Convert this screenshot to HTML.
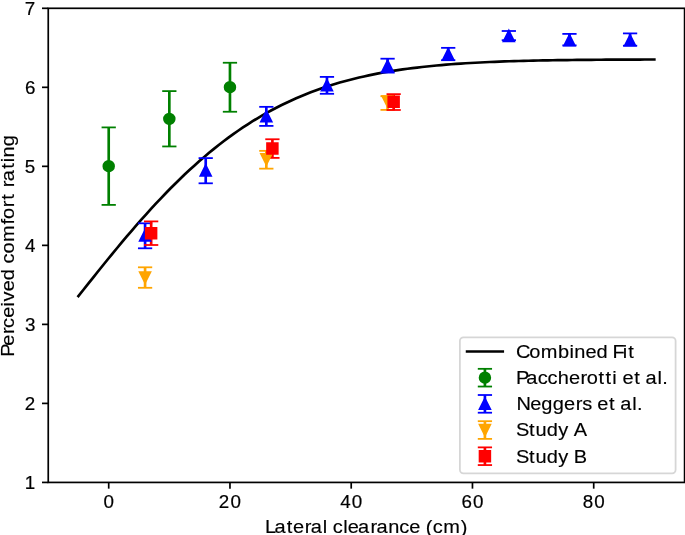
<!DOCTYPE html>
<html><head><meta charset="utf-8"><title>Perceived comfort rating vs lateral clearance</title>
<style>html,body{margin:0;padding:0;background:#fff;overflow:hidden;}svg{display:block;will-change:transform;}text{font-family:"Liberation Sans",sans-serif;fill:#000;}</style></head><body>
<svg width="685" height="535" viewBox="0 0 685 535">
<rect x="0" y="0" width="685" height="535" fill="#fff"/>
<path d="M78.4 296.08 L83.24 289.97 L88.08 283.87 L92.92 277.8 L97.76 271.75 L102.6 265.74 L107.44 259.77 L112.28 253.86 L117.12 247.99 L121.96 242.19 L126.8 236.46 L131.64 230.79 L136.48 225.2 L141.32 219.69 L146.15 214.27 L150.99 208.93 L155.83 203.69 L160.67 198.54 L165.51 193.49 L170.35 188.54 L175.19 183.7 L180.03 178.96 L184.87 174.33 L189.71 169.8 L194.55 165.39 L199.39 161.09 L204.23 156.9 L209.07 152.83 L213.91 148.87 L218.75 145.02 L223.59 141.28 L228.43 137.66 L233.27 134.15 L238.11 130.76 L242.95 127.47 L247.79 124.29 L252.63 121.23 L257.47 118.27 L262.31 115.41 L267.15 112.66 L271.99 110.02 L276.83 107.47 L281.67 105.03 L286.51 102.68 L291.35 100.42 L296.19 98.26 L301.03 96.19 L305.87 94.2 L310.71 92.31 L315.55 90.49 L320.39 88.76 L325.23 87.11 L330.07 85.53 L334.91 84.02 L339.75 82.59 L344.59 81.23 L349.43 79.93 L354.27 78.7 L359.11 77.53 L363.95 76.43 L368.79 75.37 L373.63 74.38 L378.47 73.43 L383.31 72.54 L388.15 71.7 L392.99 70.9 L397.83 70.15 L402.66 69.44 L407.5 68.77 L412.34 68.14 L417.18 67.55 L422.02 66.99 L426.86 66.47 L431.7 65.98 L436.54 65.51 L441.38 65.08 L446.22 64.67 L451.06 64.29 L455.9 63.94 L460.74 63.61 L465.58 63.29 L470.42 63 L475.26 62.73 L480.1 62.48 L484.94 62.24 L489.78 62.02 L494.62 61.82 L499.46 61.63 L504.3 61.45 L509.14 61.29 L513.98 61.14 L518.82 61 L523.66 60.87 L528.5 60.74 L533.34 60.63 L538.18 60.53 L543.02 60.43 L547.86 60.34 L552.7 60.26 L557.54 60.19 L562.38 60.12 L567.22 60.05 L572.06 60 L576.9 59.94 L581.74 59.89 L586.58 59.85 L591.42 59.8 L596.26 59.77 L601.1 59.73 L605.94 59.7 L610.78 59.67 L615.62 59.64 L620.46 59.62 L625.3 59.59 L630.14 59.57 L634.98 59.55 L639.82 59.54 L644.66 59.52 L649.5 59.51 L654.34 59.49" fill="none" stroke="#000" stroke-width="2.67" stroke-linecap="square" stroke-linejoin="round"/>
<g><line x1="108.71" y1="127.4" x2="108.71" y2="204.9" stroke="#008000" stroke-width="2.67"/><line x1="101.58" y1="127.4" x2="115.84" y2="127.4" stroke="#008000" stroke-width="1.78"/><line x1="101.58" y1="204.9" x2="115.84" y2="204.9" stroke="#008000" stroke-width="1.78"/><line x1="169.33" y1="91.1" x2="169.33" y2="146.45" stroke="#008000" stroke-width="2.67"/><line x1="162.21" y1="91.1" x2="176.46" y2="91.1" stroke="#008000" stroke-width="1.78"/><line x1="162.21" y1="146.45" x2="176.46" y2="146.45" stroke="#008000" stroke-width="1.78"/><line x1="229.96" y1="62.75" x2="229.96" y2="111.75" stroke="#008000" stroke-width="2.67"/><line x1="222.83" y1="62.75" x2="237.09" y2="62.75" stroke="#008000" stroke-width="1.78"/><line x1="222.83" y1="111.75" x2="237.09" y2="111.75" stroke="#008000" stroke-width="1.78"/></g>
<g><line x1="145.08" y1="223.3" x2="145.08" y2="248.3" stroke="#0000ff" stroke-width="2.67"/><line x1="137.96" y1="223.3" x2="152.21" y2="223.3" stroke="#0000ff" stroke-width="1.78"/><line x1="137.96" y1="248.3" x2="152.21" y2="248.3" stroke="#0000ff" stroke-width="1.78"/><line x1="205.71" y1="158.1" x2="205.71" y2="183.3" stroke="#0000ff" stroke-width="2.67"/><line x1="198.58" y1="158.1" x2="212.84" y2="158.1" stroke="#0000ff" stroke-width="1.78"/><line x1="198.58" y1="183.3" x2="212.84" y2="183.3" stroke="#0000ff" stroke-width="1.78"/><line x1="266.33" y1="106.84" x2="266.33" y2="125.9" stroke="#0000ff" stroke-width="2.67"/><line x1="259.21" y1="106.84" x2="273.46" y2="106.84" stroke="#0000ff" stroke-width="1.78"/><line x1="259.21" y1="125.9" x2="273.46" y2="125.9" stroke="#0000ff" stroke-width="1.78"/><line x1="326.96" y1="76.9" x2="326.96" y2="93.8" stroke="#0000ff" stroke-width="2.67"/><line x1="319.83" y1="76.9" x2="334.09" y2="76.9" stroke="#0000ff" stroke-width="1.78"/><line x1="319.83" y1="93.8" x2="334.09" y2="93.8" stroke="#0000ff" stroke-width="1.78"/><line x1="387.58" y1="58.7" x2="387.58" y2="72.6" stroke="#0000ff" stroke-width="2.67"/><line x1="380.46" y1="58.7" x2="394.71" y2="58.7" stroke="#0000ff" stroke-width="1.78"/><line x1="380.46" y1="72.6" x2="394.71" y2="72.6" stroke="#0000ff" stroke-width="1.78"/><line x1="448.21" y1="47.85" x2="448.21" y2="60.2" stroke="#0000ff" stroke-width="2.67"/><line x1="441.08" y1="47.85" x2="455.34" y2="47.85" stroke="#0000ff" stroke-width="1.78"/><line x1="441.08" y1="60.2" x2="455.34" y2="60.2" stroke="#0000ff" stroke-width="1.78"/><line x1="508.83" y1="31" x2="508.83" y2="40.2" stroke="#0000ff" stroke-width="2.67"/><line x1="501.71" y1="31" x2="515.96" y2="31" stroke="#0000ff" stroke-width="1.78"/><line x1="501.71" y1="40.2" x2="515.96" y2="40.2" stroke="#0000ff" stroke-width="1.78"/><line x1="569.46" y1="33.9" x2="569.46" y2="45.4" stroke="#0000ff" stroke-width="2.67"/><line x1="562.33" y1="33.9" x2="576.59" y2="33.9" stroke="#0000ff" stroke-width="1.78"/><line x1="562.33" y1="45.4" x2="576.59" y2="45.4" stroke="#0000ff" stroke-width="1.78"/><line x1="630.09" y1="33.4" x2="630.09" y2="45.7" stroke="#0000ff" stroke-width="2.67"/><line x1="622.96" y1="33.4" x2="637.21" y2="33.4" stroke="#0000ff" stroke-width="1.78"/><line x1="622.96" y1="45.7" x2="637.21" y2="45.7" stroke="#0000ff" stroke-width="1.78"/></g>
<g><line x1="145.08" y1="267.3" x2="145.08" y2="287.8" stroke="#ffa500" stroke-width="2.67"/><line x1="137.96" y1="267.3" x2="152.21" y2="267.3" stroke="#ffa500" stroke-width="1.78"/><line x1="137.96" y1="287.8" x2="152.21" y2="287.8" stroke="#ffa500" stroke-width="1.78"/><line x1="266.33" y1="150.85" x2="266.33" y2="168.65" stroke="#ffa500" stroke-width="2.67"/><line x1="259.21" y1="150.85" x2="273.46" y2="150.85" stroke="#ffa500" stroke-width="1.78"/><line x1="259.21" y1="168.65" x2="273.46" y2="168.65" stroke="#ffa500" stroke-width="1.78"/><line x1="387.58" y1="96.2" x2="387.58" y2="109.9" stroke="#ffa500" stroke-width="2.67"/><line x1="380.46" y1="96.2" x2="394.71" y2="96.2" stroke="#ffa500" stroke-width="1.78"/><line x1="380.46" y1="109.9" x2="394.71" y2="109.9" stroke="#ffa500" stroke-width="1.78"/></g>
<g><line x1="151.15" y1="221.4" x2="151.15" y2="245" stroke="#ff0000" stroke-width="2.67"/><line x1="144.02" y1="221.4" x2="158.28" y2="221.4" stroke="#ff0000" stroke-width="1.78"/><line x1="144.02" y1="245" x2="158.28" y2="245" stroke="#ff0000" stroke-width="1.78"/><line x1="272.4" y1="139.25" x2="272.4" y2="157.9" stroke="#ff0000" stroke-width="2.67"/><line x1="265.27" y1="139.25" x2="279.53" y2="139.25" stroke="#ff0000" stroke-width="1.78"/><line x1="265.27" y1="157.9" x2="279.53" y2="157.9" stroke="#ff0000" stroke-width="1.78"/><line x1="393.65" y1="94.15" x2="393.65" y2="110" stroke="#ff0000" stroke-width="2.67"/><line x1="386.52" y1="94.15" x2="400.78" y2="94.15" stroke="#ff0000" stroke-width="1.78"/><line x1="386.52" y1="110" x2="400.78" y2="110" stroke="#ff0000" stroke-width="1.78"/></g>
<g><circle cx="108.71" cy="166.2" r="5.35" fill="#008000" stroke="#008000" stroke-width="1.78"/><circle cx="169.33" cy="118.9" r="5.35" fill="#008000" stroke="#008000" stroke-width="1.78"/><circle cx="229.96" cy="87.15" r="5.35" fill="#008000" stroke="#008000" stroke-width="1.78"/></g>
<g><polygon points="145.08,230.15 139.74,240.85 150.43,240.85" fill="#0000ff" stroke="#0000ff" stroke-width="1.78" stroke-miterlimit="10"/><polygon points="205.71,165.25 200.36,175.95 211.06,175.95" fill="#0000ff" stroke="#0000ff" stroke-width="1.78" stroke-miterlimit="10"/><polygon points="266.33,110.95 260.99,121.65 271.68,121.65" fill="#0000ff" stroke="#0000ff" stroke-width="1.78" stroke-miterlimit="10"/><polygon points="326.96,80 321.61,90.7 332.31,90.7" fill="#0000ff" stroke="#0000ff" stroke-width="1.78" stroke-miterlimit="10"/><polygon points="387.58,60.3 382.24,71 392.93,71" fill="#0000ff" stroke="#0000ff" stroke-width="1.78" stroke-miterlimit="10"/><polygon points="448.21,48.85 442.86,59.55 453.56,59.55" fill="#0000ff" stroke="#0000ff" stroke-width="1.78" stroke-miterlimit="10"/><polygon points="508.83,30.55 503.49,41.25 514.18,41.25" fill="#0000ff" stroke="#0000ff" stroke-width="1.78" stroke-miterlimit="10"/><polygon points="569.46,34.85 564.11,45.55 574.81,45.55" fill="#0000ff" stroke="#0000ff" stroke-width="1.78" stroke-miterlimit="10"/><polygon points="630.09,34.95 624.74,45.65 635.43,45.65" fill="#0000ff" stroke="#0000ff" stroke-width="1.78" stroke-miterlimit="10"/></g>
<g><polygon points="145.08,282.8 139.74,272.1 150.43,272.1" fill="#ffa500" stroke="#ffa500" stroke-width="1.78" stroke-miterlimit="10"/><polygon points="266.33,164.65 260.99,153.95 271.68,153.95" fill="#ffa500" stroke="#ffa500" stroke-width="1.78" stroke-miterlimit="10"/><polygon points="387.58,106.85 382.24,96.15 392.93,96.15" fill="#ffa500" stroke="#ffa500" stroke-width="1.78" stroke-miterlimit="10"/></g>
<g><polygon points="145.8,227.95 156.49,227.95 156.49,238.65 145.8,238.65" fill="#ff0000" stroke="#ff0000" stroke-width="1.78" stroke-miterlimit="10"/><polygon points="267.05,143.25 277.74,143.25 277.74,153.95 267.05,153.95" fill="#ff0000" stroke="#ff0000" stroke-width="1.78" stroke-miterlimit="10"/><polygon points="388.3,96.45 398.99,96.45 398.99,107.15 388.3,107.15" fill="#ff0000" stroke="#ff0000" stroke-width="1.78" stroke-miterlimit="10"/></g>
<rect x="48.25" y="8.3" width="636.35" height="474.12" fill="none" stroke="#000" stroke-width="1.7"/>
<g stroke="#000" stroke-width="1.7"><line x1="108.71" y1="482.42" x2="108.71" y2="488.66"/><line x1="229.96" y1="482.42" x2="229.96" y2="488.66"/><line x1="351.21" y1="482.42" x2="351.21" y2="488.66"/><line x1="472.46" y1="482.42" x2="472.46" y2="488.66"/><line x1="593.71" y1="482.42" x2="593.71" y2="488.66"/><line x1="42.01" y1="482.42" x2="48.25" y2="482.42"/><line x1="42.01" y1="403.4" x2="48.25" y2="403.4"/><line x1="42.01" y1="324.38" x2="48.25" y2="324.38"/><line x1="42.01" y1="245.36" x2="48.25" y2="245.36"/><line x1="42.01" y1="166.34" x2="48.25" y2="166.34"/><line x1="42.01" y1="87.32" x2="48.25" y2="87.32"/><line x1="42.01" y1="8.3" x2="48.25" y2="8.3"/></g>
<text transform="translate(103.04 507.9)" x="0.44" y="0" font-size="18.8" stroke="#000" stroke-width="0.2">0</text>
<text transform="translate(218.61 507.9)" x="0.2 11.81" y="0" font-size="18.8" stroke="#000" stroke-width="0.2">20</text>
<text transform="translate(339.86 507.9)" x="0.44 11.81" y="0" font-size="18.8" stroke="#000" stroke-width="0.2">40</text>
<text transform="translate(461.11 507.9)" x="0.44 11.81" y="0" font-size="18.8" stroke="#000" stroke-width="0.2">60</text>
<text transform="translate(582.36 507.9)" x="0.44 11.81" y="0" font-size="18.8" stroke="#000" stroke-width="0.2">80</text>
<text transform="translate(24.44 488.67)" x="0.34" y="0" font-size="18.8" stroke="#000" stroke-width="0.2">1</text>
<text transform="translate(24.44 409.85)" x="0.2" y="0" font-size="18.8" stroke="#000" stroke-width="0.2">2</text>
<text transform="translate(24.44 330.68)" x="0.46" y="0" font-size="18.8" stroke="#000" stroke-width="0.2">3</text>
<text transform="translate(24.44 251.86)" x="0.44" y="0" font-size="18.8" stroke="#000" stroke-width="0.2">4</text>
<text transform="translate(24.44 172.69)" x="0.37" y="0" font-size="18.8" stroke="#000" stroke-width="0.2">5</text>
<text transform="translate(24.44 93.67)" x="0.44" y="0" font-size="18.8" stroke="#000" stroke-width="0.2">6</text>
<text transform="translate(24.44 15)" x="0.4" y="0" font-size="18.8" stroke="#000" stroke-width="0.2">7</text>
<text transform="translate(265.25 532.5) scale(1.0700 1)" x="-0.24 8.56 20.16 26.05 36.97 42.49 53.71 58.17 63.12 72.85 77.21 86.78 98.37 103.89 114.99 125.16 134.61 144.98 149.9 156.45 166.31 182.82" y="0" font-size="18.7" stroke="#000" stroke-width="0.15">Lateral clearance (cm)</text>
<text transform="translate(13.75 355.75) rotate(-90) scale(1.0700 1)" x="-0.96 9.45 20.37 25.98 35.43 45.99 50.64 60.23 70.55 81.21 86.16 95.55 106.24 122.68 127.93 138.85 145.74 151.72 157.58 163.09 174.7 180.88 185.39 195.86" y="0" font-size="18.7" stroke="#000" stroke-width="0.15">Perceived comfort rating</text>
<rect x="459.9" y="337.3" width="215.7" height="136" rx="3.56" ry="3.56" fill="#fff" fill-opacity="0.8" stroke="#ccc" stroke-opacity="0.8" stroke-width="1.78"/>
<line x1="467.1" y1="351.5" x2="502.74" y2="351.5" stroke="#000" stroke-width="2.67" stroke-linecap="square"/>
<line x1="484.92" y1="368.83" x2="484.92" y2="386.53" stroke="#008000" stroke-width="2.67"/><line x1="477.79" y1="368.83" x2="492.05" y2="368.83" stroke="#008000" stroke-width="1.78"/><line x1="477.79" y1="386.53" x2="492.05" y2="386.53" stroke="#008000" stroke-width="1.78"/><circle cx="484.92" cy="377.68" r="5.35" fill="#008000" stroke="#008000" stroke-width="1.78"/>
<line x1="484.92" y1="395.01" x2="484.92" y2="412.71" stroke="#0000ff" stroke-width="2.67"/><line x1="477.79" y1="395.01" x2="492.05" y2="395.01" stroke="#0000ff" stroke-width="1.78"/><line x1="477.79" y1="412.71" x2="492.05" y2="412.71" stroke="#0000ff" stroke-width="1.78"/><polygon points="484.92,398.51 479.57,409.21 490.27,409.21" fill="#0000ff" stroke="#0000ff" stroke-width="1.78" stroke-miterlimit="10"/>
<line x1="484.92" y1="421.19" x2="484.92" y2="438.89" stroke="#ffa500" stroke-width="2.67"/><line x1="477.79" y1="421.19" x2="492.05" y2="421.19" stroke="#ffa500" stroke-width="1.78"/><line x1="477.79" y1="438.89" x2="492.05" y2="438.89" stroke="#ffa500" stroke-width="1.78"/><polygon points="484.92,435.39 479.57,424.69 490.27,424.69" fill="#ffa500" stroke="#ffa500" stroke-width="1.78" stroke-miterlimit="10"/>
<line x1="484.92" y1="447.37" x2="484.92" y2="465.07" stroke="#ff0000" stroke-width="2.67"/><line x1="477.79" y1="447.37" x2="492.05" y2="447.37" stroke="#ff0000" stroke-width="1.78"/><line x1="477.79" y1="465.07" x2="492.05" y2="465.07" stroke="#ff0000" stroke-width="1.78"/><polygon points="479.57,450.87 490.27,450.87 490.27,461.57 479.57,461.57" fill="#ff0000" stroke="#ff0000" stroke-width="1.78" stroke-miterlimit="10"/>
<text transform="translate(517 357.9) scale(1.0700 1)" x="-1.04 11.56 22.25 38.34 49.01 53.52 63.95 74.27 84.92 89.2 98.87 103.88" y="0" font-size="18.7" stroke="#000" stroke-width="0.15">Combined Fit</text>
<text transform="translate(517 384.08) scale(1.0700 1)" x="-0.96 8.62 19.31 28.49 38.06 48.53 59.45 65.26 76.2 82.75 88.93 93.37 98.59 109.53 115.51 120.02 131.25 135.69" y="0" font-size="18.7" stroke="#000" stroke-width="0.15">Paccherotti et al.</text>
<text transform="translate(517 410.26) scale(1.0700 1)" x="-0.53 12.45 22.77 33.38 43.94 54.86 60.91 69.88 75.1 86.04 92.02 96.53 107.75 112.2" y="0" font-size="18.7" stroke="#000" stroke-width="0.15">Neggers et al.</text>
<text transform="translate(517 436.44) scale(1.0700 1)" x="-0.86 11.22 17.2 27.74 38.59 48.28 53" y="0" font-size="18.7" stroke="#000" stroke-width="0.15">Study A</text>
<text transform="translate(517 462.62) scale(1.0700 1)" x="-0.86 11.22 17.2 27.74 38.59 48.28 52.97" y="0" font-size="18.7" stroke="#000" stroke-width="0.15">Study B</text>
</svg></body></html>
